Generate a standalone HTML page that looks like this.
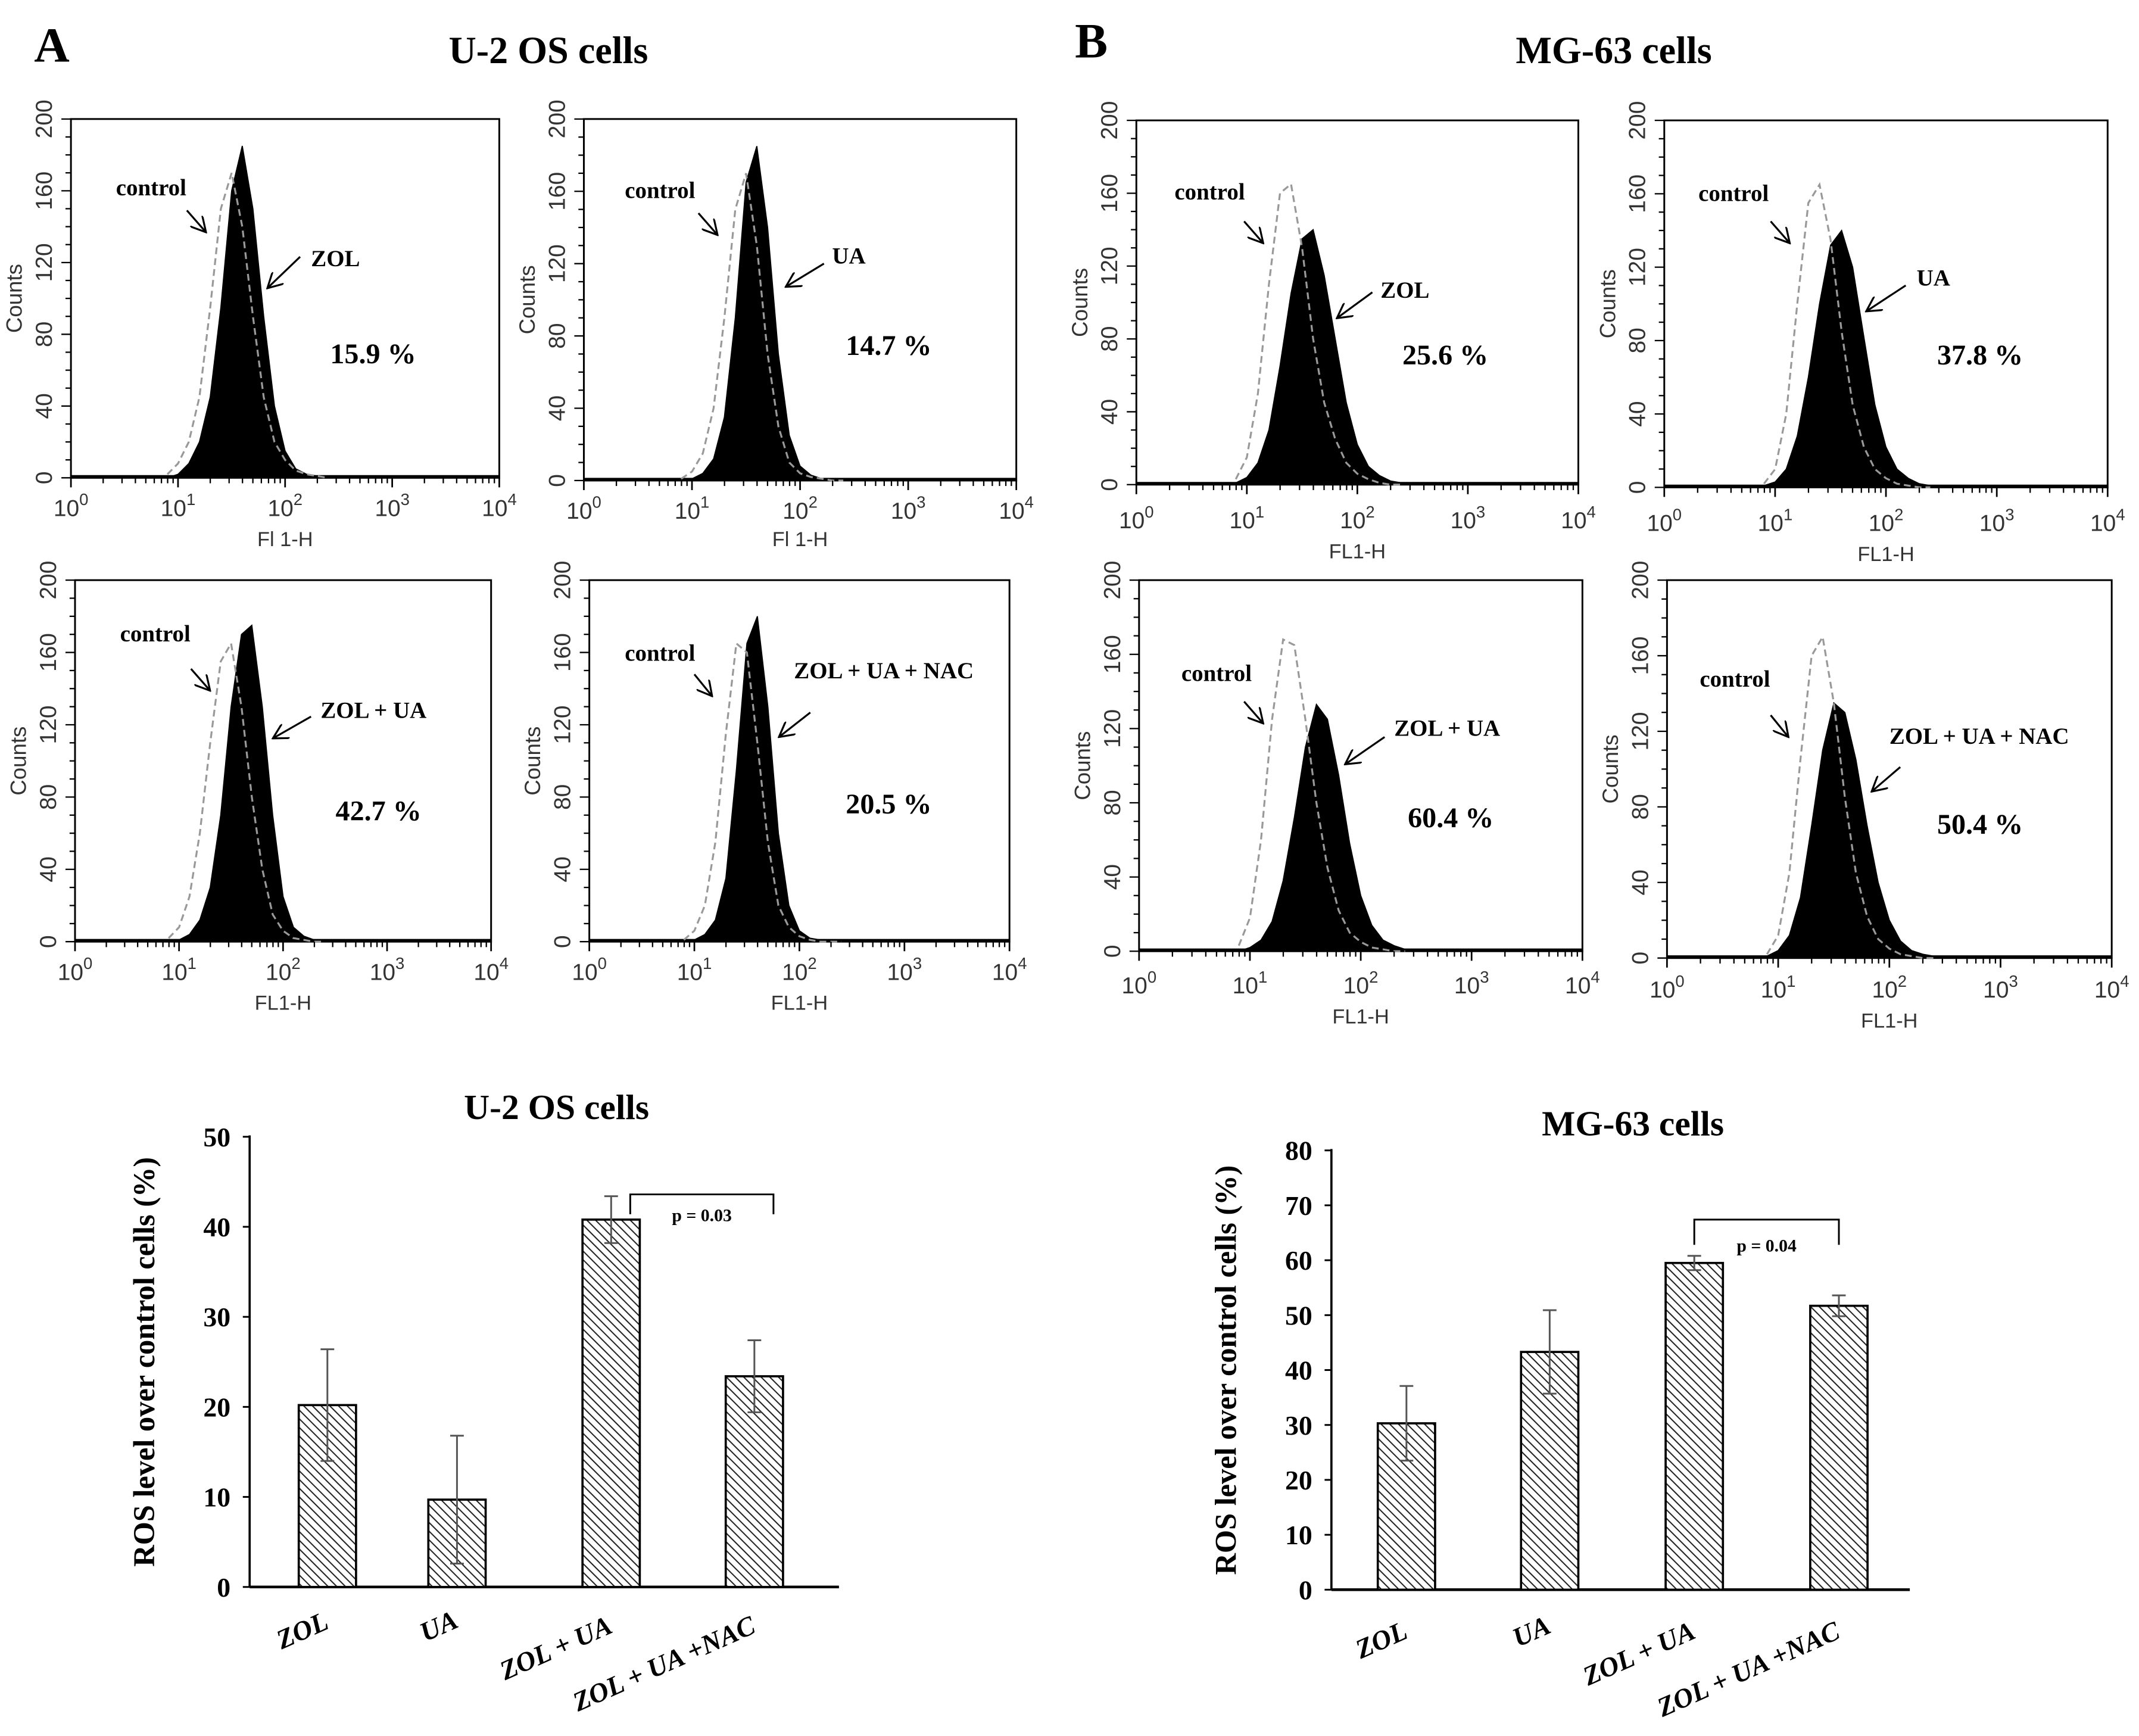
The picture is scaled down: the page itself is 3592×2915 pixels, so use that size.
<!DOCTYPE html>
<html><head><meta charset="utf-8"><style>
html,body{margin:0;padding:0;background:#fff;}
svg{display:block;}
.ser{font-family:"Liberation Serif",serif;font-weight:bold;}
.san{font-family:"Liberation Sans",sans-serif;}
</style></head><body>
<svg id="fig" width="3592" height="2915" viewBox="0 0 1568 1272" xmlns="http://www.w3.org/2000/svg">
<defs>
<pattern id="hatch" patternUnits="userSpaceOnUse" width="4.5" height="4.5" patternTransform="rotate(-45)">
<rect width="4.5" height="4.5" fill="#fff"/><line x1="0" y1="0" x2="0" y2="4.5" stroke="#222" stroke-width="1.8"/>
</pattern>
<marker id="arr" markerWidth="12" markerHeight="12" refX="11" refY="6" orient="auto" markerUnits="userSpaceOnUse">
<path d="M0,0 L11,6 L0,12" fill="none" stroke="#000" stroke-width="1.4"/>
</marker>
</defs>
<text class="ser" x="25" y="45" font-size="36">A</text>
<text class="ser" x="402" y="46" font-size="28" text-anchor="middle">U-2 OS cells</text>
<text class="ser" x="788" y="42" font-size="36">B</text>
<text class="ser" x="1183" y="46" font-size="28" text-anchor="middle">MG-63 cells</text>
<g id="hists"></g>
<g id="bars"></g>
</svg>
<script>
const NS="http://www.w3.org/2000/svg";
function mk(parent,tag,attrs,txt){const e=document.createElementNS(NS,tag);for(const k in attrs)e.setAttribute(k,attrs[k]);if(txt!==undefined)e.textContent=txt;parent.appendChild(e);return e;}

// ---- Histogram data (log10 fluorescence bins, counts) ----
const logBins=[0.9,1.0,1.1,1.2,1.3,1.4,1.5,1.6,1.7,1.8,1.9,2.0,2.1,2.2,2.3,2.4];
const countTicks=[0,40,80,120,160,200];
const decadeTicks=[0,1,2,3,4];
const aZolFill=[0,2,8,20,45,95,160,185,150,90,40,15,5,2,1,0];
const aZolCtrl=[2,8,20,45,95,150,170,140,90,45,20,10,4,2,1,0];
const aUaFill=[0,1,4,12,35,90,165,185,140,70,25,8,3,1,0,0];
const aUaCtrl=[1,5,15,40,90,150,170,130,70,30,10,4,2,1,0,0];
const aZuFill=[0,1,4,12,30,70,130,170,175,130,70,25,8,3,1,0];
const aZuCtrl=[2,8,25,60,110,155,165,130,80,40,15,6,2,1,0,0];
const aNacFill=[0,1,4,12,35,95,165,180,130,60,20,6,2,1,0,0];
const aNacCtrl=[1,6,20,55,115,165,160,110,55,20,8,3,1,0,0,0];
const bZolFill=[1,4,12,30,65,105,135,140,115,80,45,22,10,5,2,1];
const bZolCtrl=[3,15,50,110,160,165,130,80,45,25,12,6,3,1,0,0];
const bUaFill=[1,3,10,28,60,100,132,140,120,82,45,22,10,5,2,1];
const bUaCtrl=[2,10,40,100,155,165,135,85,45,22,10,5,2,1,0,0];
const bZuFill=[0,2,6,16,38,72,110,133,125,95,58,30,14,6,3,1];
const bZuCtrl=[3,18,60,125,168,165,125,80,45,22,10,5,2,1,0,0];
const bNacFill=[1,4,12,32,70,110,135,130,105,70,40,20,9,4,2,1];
const bNacCtrl=[2,12,45,105,160,170,135,85,45,22,10,5,2,1,0,0];

const panels=[
 {id:'a-zol',x0:52,x1:366,y0:350,y1:87,fill:aZolFill,ctrl:aZolCtrl,xl:'Fl 1-H',lab:'ZOL',pct:'15.9 %',tickY:378,xlY:400,
  c:[85,143,137,154,151,170],t:[228,195,220,188,196,211],p:[242,266]},
 {id:'a-ua',x0:428,x1:745,y0:352,y1:87,fill:aUaFill,ctrl:aUaCtrl,xl:'Fl 1-H',lab:'UA',pct:'14.7 %',tickY:380,xlY:400,
  c:[458,145,512,156,526,172],t:[610,193,604,193,576,210],p:[620,260]},
 {id:'a-zol-ua',x0:55,x1:360,y0:690,y1:425,fill:aZuFill,ctrl:aZuCtrl,xl:'FL1-H',lab:'ZOL + UA',pct:'42.7 %',tickY:718,xlY:740,
  c:[88,470,140,490,154,506],t:[235,526,228,525,200,541],p:[246,601]},
 {id:'a-nac',x0:432,x1:740,y0:690,y1:425,fill:aNacFill,ctrl:aNacCtrl,xl:'FL1-H',lab:'ZOL + UA + NAC',pct:'20.5 %',tickY:718,xlY:740,
  c:[458,484,509,494,522,510],t:[582,497,594,522,571,540],p:[620,596]},
 {id:'b-zol',x0:833,x1:1157,y0:355,y1:88,fill:bZolFill,ctrl:bZolCtrl,xl:'FL1-H',lab:'ZOL',pct:'25.6 %',tickY:387,xlY:409,
  c:[861,146,912,162,926,178],t:[1012,218,1006,214,980,233],p:[1028,267]},
 {id:'b-ua',x0:1220,x1:1545,y0:357,y1:88,fill:bUaFill,ctrl:bUaCtrl,xl:'FL1-H',lab:'UA',pct:'37.8 %',tickY:389,xlY:411,
  c:[1245,147,1298,162,1312,178],t:[1405,209,1397,209,1368,228],p:[1420,267]},
 {id:'b-zol-ua',x0:835,x1:1160,y0:697,y1:425,fill:bZuFill,ctrl:bZuCtrl,xl:'FL1-H',lab:'ZOL + UA',pct:'60.4 %',tickY:728,xlY:750,
  c:[866,499,912,514,926,530],t:[1022,539,1015,540,986,560],p:[1032,606]},
 {id:'b-nac',x0:1222,x1:1548,y0:702,y1:425,fill:bNacFill,ctrl:bNacCtrl,xl:'FL1-H',lab:'ZOL + UA + NAC',pct:'50.4 %',tickY:731,xlY:753,
  c:[1246,503,1298,524,1311,540],t:[1385,545,1393,562,1372,580],p:[1420,611]}
];

const H=document.getElementById('hists');
panels.forEach(P=>{
 const g=mk(H,'g',{});
 
 
 const dec=(P.x1-P.x0)/4;
 const xs=v=>P.x0+v*dec, ys=c=>P.y0-c/200*(P.y0-P.y1);
 const box=mk(g,'rect',{x:P.x0,y:P.y1,width:P.x1-P.x0,height:P.y0-P.y1,fill:'none',stroke:'#000','stroke-width':1.3});
 
 
 mk(g,'line',{x1:P.x0,y1:P.y0-1,x2:P.x1,y2:P.y0-1,stroke:'#000','stroke-width':2});
 let d='M'+xs(logBins[0])+','+ys(0);
 logBins.forEach((b,i)=>{d+=' L'+xs(b).toFixed(1)+','+ys(P.fill[i]).toFixed(1);});
 d+=' L'+xs(logBins[logBins.length-1])+','+ys(0)+' Z';
 const f=mk(g,'path',{d:d,fill:'#000',stroke:'#000','stroke-width':0.8});
 
 
 let dc='';
 logBins.forEach((b,i)=>{dc+=(i?' L':'M')+xs(b).toFixed(1)+','+ys(P.ctrl[i]).toFixed(1);});
 const c=mk(g,'path',{d:dc,fill:'none',stroke:'#999','stroke-width':1.4,'stroke-dasharray':'5,3'});
 
 
 for(let v=0;v<=200;v+=10){mk(g,'line',{x1:P.x0-(v%40?4:7),y1:ys(v),x2:P.x0,y2:ys(v),stroke:'#000','stroke-width':1});}
 countTicks.forEach(v=>{
  const t=mk(g,'text',{class:'san','font-size':17,fill:'#333','text-anchor':'middle',transform:`translate(${P.x0-14},${ys(v)}) rotate(-90)`},String(v));
  
  
 });
 const yt=mk(g,'text',{class:'san','font-size':16,fill:'#333','text-anchor':'middle',transform:`translate(${P.x0-36},${(P.y0+P.y1)/2}) rotate(-90)`},'Counts');
 
 
 decadeTicks.forEach(k=>{
  mk(g,'line',{x1:xs(k),y1:P.y0,x2:xs(k),y2:P.y0+7,stroke:'#000','stroke-width':1.2});
  if(k<4)for(let m=2;m<10;m++){const xx=xs(k+Math.log10(m));mk(g,'line',{x1:xx,y1:P.y0,x2:xx,y2:P.y0+4,stroke:'#000','stroke-width':1});}
  const t=mk(g,'text',{class:'san','font-size':17,fill:'#333','text-anchor':'middle',x:xs(k),y:P.tickY});
  
  
  mk(t,'tspan',{},'10');mk(t,'tspan',{dy:-8,'font-size':12},String(k));
 });
 const xt=mk(g,'text',{class:'san','font-size':15,fill:'#333','text-anchor':'middle',x:xs(2),y:P.xlY},P.xl);
 
 
 const ct=mk(g,'text',{class:'ser','font-size':17,x:P.c[0],y:P.c[1]},'control');
 
 
 mk(g,'line',{x1:P.c[2],y1:P.c[3],x2:P.c[4],y2:P.c[5],stroke:'#000','stroke-width':1.4,'marker-end':'url(#arr)'});
 const tt=mk(g,'text',{class:'ser','font-size':17,x:P.t[0],y:P.t[1]},P.lab);
 
 
 mk(g,'line',{x1:P.t[2],y1:P.t[3],x2:P.t[4],y2:P.t[5],stroke:'#000','stroke-width':1.4,'marker-end':'url(#arr)'});
 const pt=mk(g,'text',{class:'ser','font-size':21,x:P.p[0],y:P.p[1]},P.pct);
 
 
});

// ---- Bar charts ----
const barCategories=['ZOL','UA','ZOL + UA','ZOL + UA +NAC'];
const u2Values=[20.2,9.7,40.8,23.4];
const u2Errors=[6.2,7.1,2.6,4.0];
const u2Ticks=[0,10,20,30,40,50];
const mgValues=[30.3,43.3,59.5,51.7];
const mgErrors=[6.8,7.6,1.3,1.9];
const mgTicks=[0,10,20,30,40,50,60,70,80];

const charts=[
 {id:'u2os',title:'U-2 OS cells',tx:408,ty:820,ax:183,axEnd:615,y0:1163,y1:833,max:50,vals:u2Values,errs:u2Errors,ticks:u2Ticks,
  xc:[240,335,448,553],bw:42,br:[2,3,43.6,41.4],brOff:14,p:'p = 0.03',ylx:113,lblY:[1193,1192,1196,1196]},
 {id:'mg63',title:'MG-63 cells',tx:1197,ty:832,ax:976,axEnd:1400,y0:1165,y1:843,max:80,vals:mgValues,errs:mgErrors,ticks:mgTicks,
  xc:[1031,1136,1242,1348],bw:42,br:[2,3,67.4,62.8],brOff:0,p:'p = 0.04',ylx:906,lblY:[1200,1196,1200,1200]}
];
const B=document.getElementById('bars');
charts.forEach(C=>{
 const g=mk(B,'g',{});
 
 
 const ys=v=>C.y0-v/C.max*(C.y0-C.y1);
 const t=mk(g,'text',{class:'ser','font-size':26,'text-anchor':'middle',x:C.tx,y:C.ty},C.title);
 
 
 mk(g,'line',{x1:C.ax,y1:C.y1-1,x2:C.ax,y2:C.y0,stroke:'#000','stroke-width':1.6});
 mk(g,'line',{x1:C.ax,y1:C.y0,x2:C.axEnd,y2:C.y0,stroke:'#000','stroke-width':2});
 C.ticks.forEach(v=>{
  mk(g,'line',{x1:C.ax-5,y1:ys(v),x2:C.ax,y2:ys(v),stroke:'#000','stroke-width':1.3});
  const l=mk(g,'text',{class:'ser','font-size':20,'text-anchor':'end',x:C.ax-14,y:ys(v)+7},String(v));
  
  
 });
 const yl=mk(g,'text',{class:'ser','font-size':22,'text-anchor':'middle',transform:`translate(${C.ylx},${(C.y0+C.y1)/2}) rotate(-90)`},'ROS level over control cells (%)');
 
 
 C.vals.forEach((v,i)=>{
  const x=C.xc[i];
  const r=mk(g,'rect',{x:x-C.bw/2,y:ys(v),width:C.bw,height:C.y0-ys(v),fill:'url(#hatch)',stroke:'#000','stroke-width':1.6});
  
  
  const e=C.errs[i];
  const eb=mk(g,'path',{d:`M${x},${ys(v+e)} L${x},${ys(v-e)} M${x-5},${ys(v+e)} L${x+5},${ys(v+e)} M${x-5},${ys(v-e)} L${x+5},${ys(v-e)}`,stroke:'#555','stroke-width':1.3,fill:'none'});
  
  
  const lb=mk(g,'text',{class:'ser','font-size':20,'font-style':'italic','text-anchor':'end',transform:`translate(${x+2},${C.lblY[i]}) rotate(-24)`},barCategories[i]);
  
  
 });
 const a=C.xc[C.br[0]]+C.brOff,b=C.xc[C.br[1]]+C.brOff;
 const br=mk(g,'path',{d:`M${a},${ys(C.br[3])} L${a},${ys(C.br[2])} L${b},${ys(C.br[2])} L${b},${ys(C.br[3])}`,stroke:'#000','stroke-width':1.3,fill:'none'});
 
 
 const pt=mk(g,'text',{class:'ser','font-size':13,'font-weight':'normal','text-anchor':'middle',x:(a+b)/2,y:ys(C.br[3])+5},C.p);
 
 
});
</script>
</body></html>
